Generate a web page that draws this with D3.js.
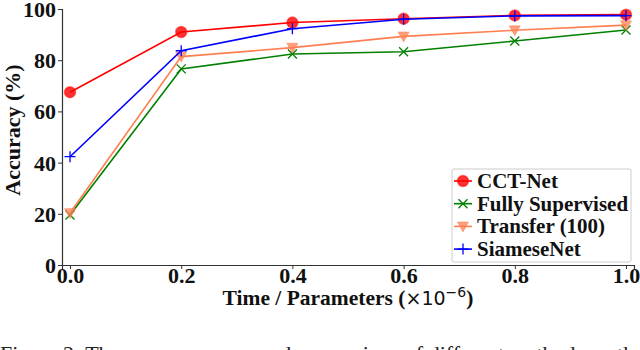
<!DOCTYPE html>
<html>
<head>
<meta charset="utf-8">
<script src="https://cdn.jsdelivr.net/npm/d3@7"></script>
<style>
  body { margin: 0; background: #fff; }
  svg { display: block; }
  .tick text { font-family: "Liberation Serif", "Times New Roman", serif; font-weight: bold; font-size: 22px; fill: #111; }
</style>
</head>
<body>
<svg id="svg" width="640" height="350"></svg>
<script>
// x positions (x 1e-6)
var xValues = [0.0, 0.2, 0.4, 0.6, 0.8, 1.0];
var xTicks = [0.0, 0.2, 0.4, 0.6, 0.8, 1.0];
var yTicks = [0, 20, 40, 60, 80, 100];

// accuracy (%) per method
var cctNet = [67.5, 91.0, 94.7, 96.2, 97.5, 97.8];
var fullySupervised = [19.5, 76.6, 82.4, 83.3, 87.5, 91.8];
var transfer100 = [20.3, 81.4, 84.9, 89.3, 91.7, 93.7];
var siameseNet = [42.3, 83.7, 92.3, 96.0, 97.3, 97.4];

var seriesNames = ["CCT-Net", "Fully Supervised", "Transfer (100)", "SiameseNet"];
var seriesColors = ["#ff0000", "#008000", "#ff7f50", "#0000ff"];
var seriesMarkers = ["circle", "x", "tri", "plus"];

var svg = d3.select("#svg");
var serif = "'Liberation Serif', 'Times New Roman', serif";

// plot area
var plotLeft = 62, plotRight = 634, plotTop = 9, plotBottom = 265;

var x = d3.scaleLinear().domain([-0.0144, 1.0144]).range([plotLeft, plotRight]);
var y = d3.scaleLinear().domain([0, 100]).range([plotBottom, plotTop]);

// axes
var xAxis = svg.append("g")
	.attr("transform", "translate(0," + plotBottom + ")")
	.call(d3.axisBottom(x).tickValues(xTicks).tickFormat(d3.format(".1f")).tickSize(4).tickPadding(3));
var yAxis = svg.append("g")
	.attr("transform", "translate(" + plotLeft + ",0)")
	.call(d3.axisLeft(y).tickValues(yTicks).tickSize(4).tickPadding(2));

[xAxis, yAxis].forEach(function(ax){
	ax.select(".domain").attr("stroke", "#333").attr("stroke-width", 1.2);
	ax.selectAll(".tick line").attr("stroke", "#333").attr("stroke-width", 1);
});
// baseline of x tick labels about 18px under the axis
xAxis.selectAll(".tick text").attr("y", 18).attr("dy", 0);
yAxis.selectAll(".tick text").attr("dy", "0.34em");

// axis titles
svg.append("text")
	.attr("x", (plotLeft + plotRight) / 2)
	.attr("y", 305)
	.attr("text-anchor", "middle")
	.style("font-family", serif)
	.style("font-weight", "bold")
	.style("font-size", "21.5px")
	.style("fill", "#111")
	.html("Time / Parameters (<tspan style=\"font-family:'DejaVu Sans';font-weight:normal;font-size:19px\">\u00d710</tspan><tspan dy=\"-8\" style=\"font-family:'DejaVu Sans';font-weight:normal;font-size:14px\">\u22126</tspan><tspan dy=\"8\">)</tspan>");

svg.append("text")
	.attr("transform", "translate(20," + ((plotTop + plotBottom) / 2 - 7) + ") rotate(-90)")
	.attr("text-anchor", "middle")
	.style("font-family", serif)
	.style("font-weight", "bold")
	.style("font-size", "22px")
	.style("fill", "#111")
	.text("Accuracy (%)");

// marker drawing
function drawMarker(g, kind, color, cx, cy){
	if (kind === "circle"){
		g.append("circle").attr("cx", cx).attr("cy", cy).attr("r", 5.5)
			.attr("fill", color).attr("fill-opacity", 0.8)
			.attr("stroke", color).attr("stroke-opacity", 0.5).attr("stroke-width", 1.5);
	} else if (kind === "x"){
		var s = 4.5;
		g.append("path")
			.attr("d", "M" + (cx - s) + "," + (cy - s) + "L" + (cx + s) + "," + (cy + s) +
				"M" + (cx - s) + "," + (cy + s) + "L" + (cx + s) + "," + (cy - s))
			.attr("stroke", color).attr("stroke-width", 1.3).attr("fill", "none");
	} else if (kind === "tri"){
		var t = 5.5;
		g.append("path")
			.attr("d", "M" + (cx - t) + "," + (cy - t * 0.8) + "L" + (cx + t) + "," + (cy - t * 0.8) + "L" + cx + "," + (cy + t) + "Z")
			.attr("fill", color).attr("fill-opacity", 0.75)
			.attr("stroke", color).attr("stroke-opacity", 0.5).attr("stroke-width", 1);
	} else {
		var p = 5.5;
		g.append("path")
			.attr("d", "M" + (cx - p) + "," + cy + "L" + (cx + p) + "," + cy +
				"M" + cx + "," + (cy - p) + "L" + cx + "," + (cy + p))
			.attr("stroke", color).attr("stroke-width", 1.3).attr("fill", "none");
	}
}

var allSeries = [cctNet, fullySupervised, transfer100, siameseNet];
var line = d3.line().x(function(d, i){ return x(xValues[i]); }).y(function(d){ return y(d); });

allSeries.forEach(function(values, k){
	var g = svg.append("g");
	g.append("path")
		.datum(values)
		.attr("d", line)
		.attr("fill", "none")
		.attr("stroke", seriesColors[k])
		.attr("stroke-width", 1.6);
	values.forEach(function(v, i){
		drawMarker(g, seriesMarkers[k], seriesColors[k], x(xValues[i]), y(v));
	});
});

// legend
var legend = svg.append("g").attr("transform", "translate(452,169)");
legend.append("rect")
	.attr("width", 179).attr("height", 93).attr("rx", 2)
	.attr("fill", "#fff").attr("fill-opacity", 0.85)
	.attr("stroke", "#ccc").attr("stroke-width", 1);
seriesNames.forEach(function(name, k){
	var ly = 12 + k * 22.7;
	legend.append("line")
		.attr("x1", 2).attr("x2", 20).attr("y1", ly).attr("y2", ly)
		.attr("stroke", seriesColors[k]).attr("stroke-width", 1.6);
	drawMarker(legend, seriesMarkers[k], seriesColors[k], 11, ly);
	legend.append("text")
		.attr("x", 25).attr("y", ly + 7)
		.style("font-family", serif)
		.style("font-weight", "bold")
		.style("font-size", "21px")
		.style("fill", "#111")
		.text(name);
});

// caption, cut off at the bottom edge of the picture
svg.append("text")
	.attr("x", 0)
	.attr("y", 361)
	.style("font-family", serif)
	.style("font-size", "22px")
	.style("fill", "#222")
	.text("Figure 2: The convergence speed comparison of different methods on the");
</script>
</body>
</html>
